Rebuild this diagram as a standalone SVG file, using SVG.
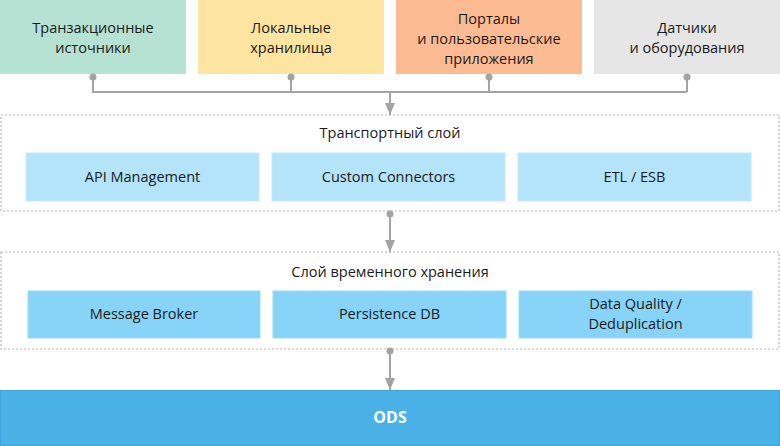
<svg xmlns="http://www.w3.org/2000/svg" width="780" height="446" viewBox="0 0 780 446">
<style>
text{font-family:"Open Sans","Liberation Sans",sans-serif;font-size:14.5px;fill:#1a1a1a;text-anchor:middle}
.layer{fill:#fff;stroke:#b5b5b5;stroke-width:1.2;stroke-dasharray:2 2}
.t{fill:#b3e4f9;stroke:#c2eafb;stroke-width:1}
.s{fill:#88d4f8;stroke:#9adbf9;stroke-width:1}
.conn{fill:none;stroke:#a3a3a3;stroke-width:2}
.dot{fill:#a3a3a3}
</style>
<defs>
<marker id="ah" markerWidth="12" markerHeight="10" refX="12" refY="5" orient="auto" markerUnits="userSpaceOnUse" viewBox="0 0 12 10">
<path d="M0,0 L12,5 L0,10 Z" fill="#a3a3a3"/>
</marker>
</defs>
<g id="src1"><rect x="0" y="0" width="186" height="74" fill="#b6e2d4"/><text x="93" y="33">Транзакционные</text><text x="93" y="53">источники</text></g>
<g id="src2"><rect x="198" y="0" width="186" height="74" fill="#fde4a1"/><text x="291" y="33">Локальные</text><text x="291" y="53">хранилища</text></g>
<g id="src3"><rect x="396" y="0" width="186" height="74" fill="#fdbb94"/><text x="489" y="24">Порталы</text><text x="489" y="44">и пользовательские</text><text x="489" y="64">приложения</text></g>
<g id="src4"><rect x="594" y="0" width="186" height="74" fill="#e6e6e6"/><text x="687" y="33">Датчики</text><text x="687" y="53">и оборудования</text></g>
<g id="transport">
<rect class="layer" x="1" y="115" width="778" height="96"/>
<text x="390" y="138">Транспортный слой</text>
<g id="api"><rect class="t" x="26" y="153" width="233" height="48"/><text x="142.5" y="182">API Management</text></g>
<g id="custom"><rect class="t" x="272" y="153" width="233" height="48"/><text x="388.5" y="182">Custom Connectors</text></g>
<g id="etl"><rect class="t" x="518" y="153" width="233" height="48"/><text x="634.5" y="182">ETL / ESB</text></g>
</g>
<g id="staging">
<rect class="layer" x="1" y="252" width="778" height="97"/>
<text x="390" y="277">Слой временного хранения</text>
<g id="broker"><rect class="s" x="28" y="291" width="232" height="47"/><text x="144" y="319">Message Broker</text></g>
<g id="persist"><rect class="s" x="273" y="291" width="233" height="47"/><text x="389.5" y="319">Persistence DB</text></g>
<g id="dq"><rect class="s" x="519" y="291" width="233" height="47"/><text x="635.5" y="309">Data Quality /</text><text x="635.5" y="329">Deduplication</text></g>
</g>
<g id="ods"><rect x="0.5" y="390.5" width="779" height="55" fill="#4ab1e6" stroke="#3aa5df"/><text x="390" y="423" style="fill:#fff;font-weight:bold;font-size:16px">ODS</text></g>
<g id="connectors">
<path class="conn" d="M93,77 V92 H687 M291,77 V92 M489,77 V92 M687,77 V92"/>
<circle class="dot" cx="93" cy="77" r="3.5"/><circle class="dot" cx="291" cy="77" r="3.5"/><circle class="dot" cx="489" cy="77" r="3.5"/><circle class="dot" cx="687" cy="77" r="3.5"/>
<path class="conn" d="M390,92 V115" marker-end="url(#ah)"/>
<circle class="dot" cx="390" cy="214" r="3.5"/>
<path class="conn" d="M390,214 V252" marker-end="url(#ah)"/>
<circle class="dot" cx="390" cy="351" r="3.5"/>
<path class="conn" d="M390,351 V390" marker-end="url(#ah)"/>
</g>
</svg>
